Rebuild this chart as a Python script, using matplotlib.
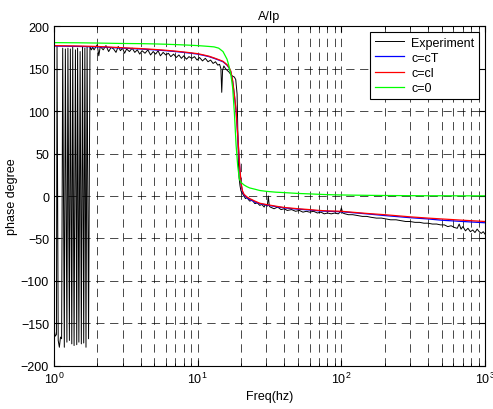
import numpy as np
import matplotlib
matplotlib.use("Agg")
import matplotlib.pyplot as plt
from matplotlib.ticker import LogLocator, MultipleLocator

plt.rcParams['font.family'] = ['Liberation Sans', 'DejaVu Sans']
plt.rcParams['font.size'] = 9
plt.rcParams['lines.scale_dashes'] = False

# model curves
f_model = [1, 1.5, 2, 3, 4, 5, 6, 7, 8, 9, 10, 11, 12, 13, 14, 15, 16, 16.5, 17, 17.5,
           18, 18.5, 19, 19.5, 20, 20.5, 21, 22, 23, 25, 27, 30, 35, 40, 50, 60, 70, 80,
           100, 150, 200, 300, 400, 500, 700, 1000]
phase_cT = [176.5, 176, 175.5, 174, 173, 172, 171, 170, 169, 168, 167, 165.5, 164, 162, 160, 158,
            154, 151, 146, 135, 118, 100, 70, 40, 15, 5, 1, -2, -4, -7, -9, -10.5, -12.5, -14,
            -15.5, -16.5, -17.5, -18, -18.5, -21, -23, -25.5, -27, -28.5, -30, -31.5]
phase_cl = [177, 176.5, 176, 174.5, 173.5, 172.5, 171.5, 170.5, 169.5, 168.5, 167.5, 166, 164.5, 162.5,
            160.5, 158.5, 154.5, 151.5, 147, 136, 119, 101, 71, 41, 16, 6, 2, -1, -3, -6, -8.5,
            -10, -12, -13.5, -15, -16, -17, -17.5, -18, -20.5, -22, -24.5, -26, -27, -28.5, -30]
phase_c0 = [180.5, 180.3, 180, 179.5, 179.3, 179, 178.6, 178.2, 177.8, 177.4, 177, 176.5, 176, 175.5,
            174, 170, 161, 153, 143, 128, 98, 60, 35, 20, 16, 14.5, 13, 11, 9.5, 8, 6.5, 5.5,
            4.5, 4, 3, 2.5, 2, 1.6, 1.2, 0.8, 0.6, 0.4, 0.3, 0.3, 0.2, 0.2]

# measured
f_exp = [1.00, 1.005, 1.02, 1.04, 1.05, 1.07, 1.09, 1.11, 1.13, 1.15, 1.18, 1.20, 1.23, 1.25,
         1.28, 1.30, 1.33, 1.35, 1.38, 1.41, 1.44, 1.46, 1.49, 1.52, 1.55, 1.58, 1.61, 1.64,
         1.67, 1.70, 1.74, 1.78, 1.82, 1.86,
         1.9, 2.0, 2.05, 2.1, 2.2, 2.3, 2.4, 2.5, 2.6, 2.7, 2.8, 2.9, 3.0, 3.1, 3.2, 3.35, 3.5,
         3.65, 3.8, 3.95, 4.1, 4.3, 4.5, 4.7, 4.9, 5.1, 5.3, 5.5, 5.75, 6.0, 6.25, 6.5, 6.8,
         7.1, 7.4, 7.7, 8.0, 8.35, 8.7, 9.1, 9.5, 9.9, 10.3, 10.8, 11.3, 11.8, 12.3, 12.8,
         13.3, 13.8, 14.2, 14.5, 14.7, 14.9, 15.2, 15.6, 16.0, 16.5, 17.0, 17.5, 18.0, 18.4,
         18.8, 19.0, 19.2, 19.4, 19.7, 20.0, 20.5, 21.0, 21.5, 22, 23, 24, 25, 26, 27, 28, 29,
         29.5, 30.5, 31, 31.5, 32, 34, 36, 38, 40, 42, 45, 48, 51, 54, 57, 60, 64, 68, 72, 76,
         80, 85, 90, 95, 98, 100, 102, 106, 112, 120, 130, 140, 150, 160, 175, 190, 205, 220,
         240, 260, 280, 300, 325, 350, 375, 400, 430, 460, 490, 520, 550, 580, 610, 640, 660,
         680, 700, 730, 760, 790, 820, 850, 880, 910, 940, 970, 1000]
phase_exp = [176, -158, -165, -163, 176, -170, -178, -166, -168, 174, -178, 173, -172, 174,
             -170, 173, -174, 175, -176, 172, -175, 174, -172, 170, -174, 176, -173, 174,
             -178, 175, -168, 176, 172, 175,
             172, 178, 165, 176, 172, 177, 170, 175, 173, 169, 176, 171, 174, 168, 173, 170, 174,
             169, 172, 167, 171, 168, 172, 166, 170, 167, 171, 165, 169, 166, 168, 164, 167,
             163, 166, 162, 165, 161, 164, 162, 164, 160, 163, 159, 162, 158, 160, 156,
             158, 154, 155, 150, 122, 148, 153, 150, 148, 146, 143, 141, 140, 137,
             120, 80, 40, 22, 12, 6, 3, 0, -3, -2, -6, -5, -9, -8, -11, -10, -13,
             -10, -12, 0, -12, -13, -15, -13, -16, -15, -17, -16, -18, -17, -19, -18, -19, -18, -20, -19, -21,
             -20, -21, -20, -21, -19, -14, -20, -21, -22, -22, -23, -24, -24, -25, -26, -26, -27, -28,
             -28, -29, -30, -30, -31, -31, -32, -32, -33, -33, -34, -34, -36, -35, -37, -38, -33,
             -39, -36, -41, -38, -42, -40, -43, -39, -42, -44, -42, -45]

fig = plt.figure(figsize=(4.93, 4.10), dpi=100)
ax = fig.add_axes([0.1095, 0.105, 0.8745, 0.829])

ax.semilogx(f_exp, phase_exp, color='k', lw=0.7, label='Experiment')
ax.semilogx(f_model, phase_cT, color='#0000ff', lw=0.9, label='c=cT')
ax.semilogx(f_model, phase_cl, color='#ff0000', lw=0.9, label='c=cl')
ax.semilogx(f_model, phase_c0, color='#00ff00', lw=0.9, label='c=0')

ax.set_xlim(1, 1000)
ax.set_ylim(-200, 200)
ax.yaxis.set_major_locator(MultipleLocator(50))
ax.xaxis.set_major_locator(LogLocator(base=10, numticks=10))
ax.xaxis.set_minor_locator(LogLocator(base=10, subs=np.arange(2, 10), numticks=10))

dash = (0, (6, 4))
ax.grid(True, which='both', axis='x', color='k', ls=dash, lw=0.5)
ax.grid(True, which='major', axis='y', color='k', ls=dash, lw=0.5)

ax.tick_params(which='both', direction='in', top=True, right=True, labelsize=9)
ax.tick_params(which='major', length=4)
ax.tick_params(which='minor', length=2)

ax.set_title('A/Ip', fontsize=9, pad=5)
ax.set_xlabel('Freq(hz)', fontsize=9, labelpad=3)
ax.set_ylabel('phase degree', fontsize=9, labelpad=2)

leg = ax.legend(loc='upper right', fontsize=9, fancybox=False, framealpha=1,
                edgecolor='k', handlelength=2.3, handletextpad=0.6,
                borderaxespad=0.45, labelspacing=0.25, borderpad=0.4)
leg.get_frame().set_linewidth(0.8)

fig.savefig('out.png', dpi=100)
